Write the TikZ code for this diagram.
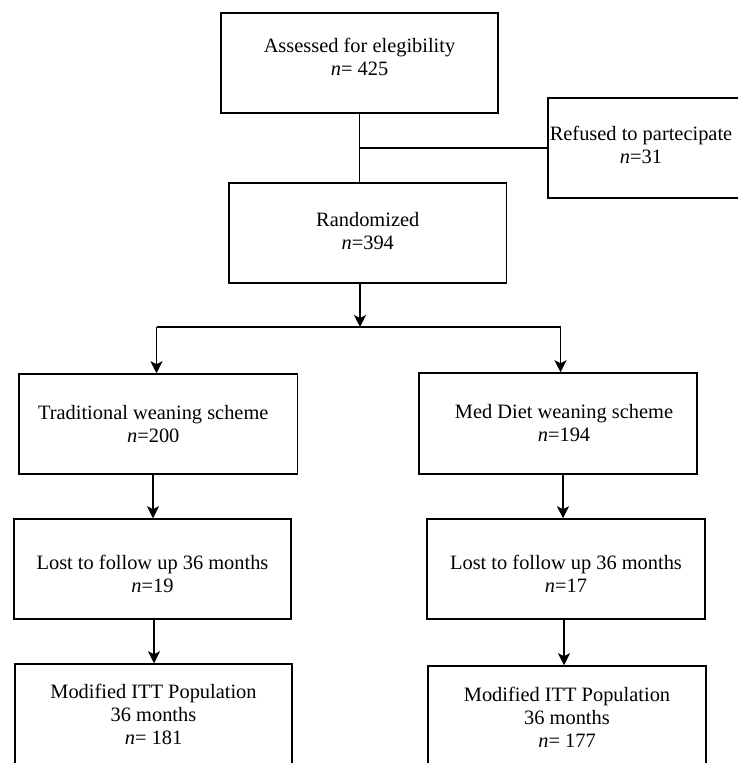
\documentclass[tikz,border=0pt]{standalone}
\usepackage{fontspec}
\setmainfont{Liberation Serif}
\usetikzlibrary{arrows.meta}
\begin{document}
\begin{tikzpicture}[x=0.5pt,y=-0.5pt,
  every node/.style={font=\fontsize{10.2}{11.5}\selectfont, align=center, inner sep=0pt},
  box/.style={draw, line width=0.75pt, minimum height=50pt},
  link/.style={line width=0.75pt},
  arr/.style={link, -{Stealth[length=6pt,width=6pt,inset=1.5pt]}}]
\useasboundingbox (0,0) rectangle (737,763);
% boxes (text placed as centred labels)
\node[box, minimum width=138.5pt, label={[yshift=3pt]center:{Assessed for elegibility\\\textit{n}= 425}}] (A) at (359.5,63) {};
\node[box, anchor=west, minimum width=130pt] (R) at (547,148) {};
\node (Rt) at (641,145) {Refused to partecipate\\\textit{n}=31};
\node[box, minimum width=138.75pt, label={[yshift=1pt]center:{Randomized\\\textit{n}=394}}] (Rand) at (367.75,233) {};
\node[box, minimum width=139.25pt, label={[xshift=-2.5pt]center:{Traditional weaning scheme\\\textit{n}=200}}] (T1) at (158.25,424) {};
\node[box, minimum width=139pt, minimum height=50.5pt, label={[xshift=3pt]center:{Med Diet weaning scheme\\\textit{n}=194}}] (T2) at (558,423.5) {};
\node[box, minimum width=138.5pt, label={[yshift=-2.5pt]center:{Lost to follow up 36 months\\\textit{n}=19}}] (L1) at (152.5,569) {};
\node[box, minimum width=139pt, label={[yshift=-2.5pt]center:{Lost to follow up 36 months\\\textit{n}=17}}] (L2) at (566,569) {};
\node[box, minimum width=138.5pt, label={center:{Modified ITT Population\\36 months\\\textit{n}= 181}}] (M1) at (153.5,714) {};
\node[box, minimum width=139pt, label={[yshift=-0.7pt]center:{Modified ITT Population\\36 months\\\textit{n}= 177}}] (M2) at (567,716) {};
% connectors
\coordinate (sp) at (360,327);
\coordinate (hl) at (156.5,327);
\coordinate (hr) at (560.5,327);
\coordinate (c1) at (153,500);
\coordinate (c2) at (563,500);
\coordinate (c3) at (154,640);
\coordinate (c4) at (564,640);
\draw[link] (A.south) -- (Rand.north -| A.south);
\draw[link] (A.south |- R.west) -- (R.west);
\draw[arr] (Rand.south -| sp) -- (sp);
\draw[link] (hl) -- (hr);
\draw[arr] (hl) -- (T1.north -| hl);
\draw[arr] (hr) -- (T2.north -| hr);
\draw[arr] (T1.south -| c1) -- (L1.north -| c1);
\draw[arr] (T2.south -| c2) -- (L2.north -| c2);
\draw[arr] (L1.south -| c3) -- (M1.north -| c3);
\draw[arr] (L2.south -| c4) -- (M2.north -| c4);
\end{tikzpicture}
\end{document}
